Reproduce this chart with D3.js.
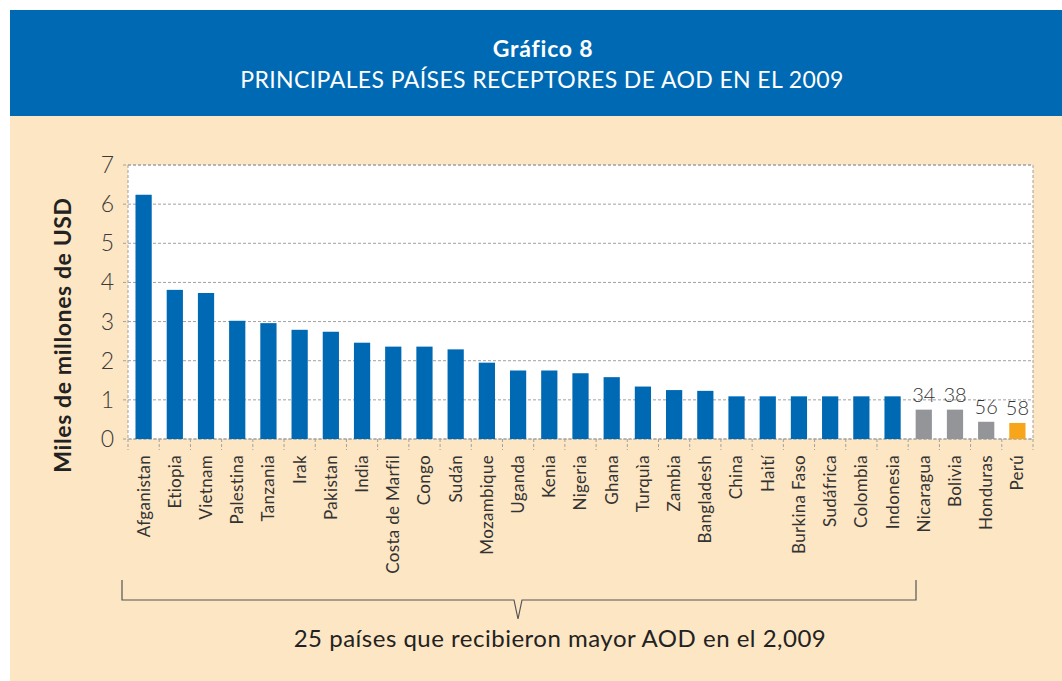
<!DOCTYPE html>
<html>
<head>
<meta charset="utf-8">
<script src="https://cdn.jsdelivr.net/npm/d3@7"></script>
<style>
  body { margin: 0; background: #fff; }
  svg text { font-family: "Lato", "Noto Sans", sans-serif; }
</style>
</head>
<body>
<div id="chart"></div>
<script>
// ---- données ----
const paises = ["Afganistan", "Etiopia", "Vietnam", "Palestina", "Tanzania", "Irak", "Pakistan", "India",
  "Costa de Marfil", "Congo", "Sudán", "Mozambique", "Uganda", "Kenia", "Nigeria", "Ghana", "Turquìa",
  "Zambia", "Bangladesh", "China", "Haití", "Burkina Faso", "Sudáfrica", "Colombia", "Indonesia",
  "Nicaragua", "Bolivia", "Honduras", "Perú"];
const valores = [6.24, 3.81, 3.73, 3.02, 2.96, 2.79, 2.74, 2.46,
  2.36, 2.36, 2.29, 1.95, 1.75, 1.75, 1.68, 1.58, 1.34,
  1.25, 1.23, 1.09, 1.09, 1.09, 1.09, 1.09, 1.09,
  0.75, 0.75, 0.44, 0.41];
// rang des pays d'Amérique latine (texte au-dessus des barres)
const rangos = {"Nicaragua": "34", "Bolivia": "38", "Honduras": "56", "Perú": "58"};
const yTicks = [0, 1, 2, 3, 4, 5, 6, 7];

// couleurs
const azul = "#0069b4", gris = "#939598", naranja = "#f7a51b", fondo = "#fde6c3";

const W = 1062, H = 681;
const svg = d3.select("#chart").append("svg").attr("width", W).attr("height", H);

// fond beige + bandeau bleu
svg.append("rect").attr("x", 10).attr("y", 10).attr("width", W - 10).attr("height", H - 10).attr("fill", fondo);
svg.append("rect").attr("x", 10).attr("y", 10).attr("width", W - 10).attr("height", 106).attr("fill", azul);

svg.append("text").attr("x", 543).attr("y", 57).attr("text-anchor", "middle")
  .attr("fill", "#fff").style("font-size", "23px").style("font-weight", "bold")
  .style("letter-spacing", "0.8px").text("Gráfico 8");
svg.append("text").attr("x", 542).attr("y", 88).attr("text-anchor", "middle")
  .attr("fill", "#fff").style("font-size", "23px").style("letter-spacing", "0.4px")
  .text("PRINCIPALES PAÍSES RECEPTORES DE AOD EN EL 2009");

// zone du graphique
const x0 = 128, x1 = 1033, yTop = 165, yBot = 439;

const x = d3.scaleBand().domain(paises).range([x0, x1]).paddingInner(0.48).paddingOuter(0.24);
const y = d3.scaleLinear().domain([0, 7]).range([yBot, yTop]);

svg.append("rect").attr("x", x0).attr("y", yTop).attr("width", x1 - x0).attr("height", yBot - yTop)
  .attr("fill", "#fff").attr("stroke", "#a0a0a0").attr("stroke-dasharray", "3,2");

// grille horizontale
svg.append("g").selectAll("line").data(yTicks).enter().append("line")
  .attr("x1", x0 - 5).attr("x2", x1).attr("y1", d => y(d)).attr("y2", d => y(d))
  .attr("stroke", "#a0a0a0").attr("stroke-dasharray", "3,2");

// graduations axe x (entre les bandes)
const bordes = paises.map(p => x(p) - x.step() * x.paddingInner() / 2).concat([x1]);
bordes[0] = x0;
svg.append("g").selectAll("line").data(bordes).enter().append("line")
  .attr("x1", d => d).attr("x2", d => d).attr("y1", yBot).attr("y2", yBot + 11)
  .attr("stroke", "#a0a0a0").attr("stroke-dasharray", "3,2");

// barres
svg.append("g").selectAll("rect").data(paises).enter().append("rect")
  .attr("x", d => x(d)).attr("width", x.bandwidth())
  .attr("y", (d, i) => y(valores[i])).attr("height", (d, i) => yBot - y(valores[i]))
  .attr("fill", d => d === "Perú" ? naranja : (rangos[d] ? gris : azul));

// rangs
svg.append("g").selectAll("text").data(paises.filter(p => rangos[p])).enter().append("text")
  .attr("x", d => x(d) + x.bandwidth() / 2)
  .attr("y", d => y(valores[paises.indexOf(d)]) - 8)
  .attr("text-anchor", "middle").attr("fill", "#333").style("font-size", "20px").style("font-weight", 300)
  .text(d => rangos[d]);

// axe y
svg.append("g").selectAll("text").data(yTicks).enter().append("text")
  .attr("x", 114).attr("y", d => y(d)).attr("dy", "0.35em").attr("text-anchor", "end")
  .attr("fill", "#3a3a3a").style("font-size", "23px").style("font-weight", 300).text(d => d);

svg.append("text").attr("transform", "translate(71,335) rotate(-90)").attr("text-anchor", "middle")
  .attr("fill", "#222").style("font-size", "23px").style("font-weight", "bold")
  .style("letter-spacing", "0.6px").text("Miles de millones de USD");

// étiquettes pays
svg.append("g").selectAll("text").data(paises).enter().append("text")
  .attr("transform", d => `translate(${x(d) + x.bandwidth() / 2},455) rotate(-90)`)
  .attr("dy", "0.35em").attr("text-anchor", "end").attr("fill", "#333")
  .style("font-size", "17px").style("letter-spacing", "0.3px").text(d => d);

// accolade
const bx0 = 122, bx1 = 916, bm = 518, by = 600;
svg.append("path")
  .attr("d", `M${bx0},580 L${bx0},${by} L${bm - 4},${by} L${bm},619 L${bm + 4},${by} L${bx1},${by} L${bx1},580`)
  .attr("fill", "none").attr("stroke", "#555").attr("stroke-width", 1.2);

svg.append("text").attr("x", 560).attr("y", 647).attr("text-anchor", "middle")
  .attr("fill", "#222").style("font-size", "24px").style("letter-spacing", "0.5px")
  .text("25 países que recibieron mayor AOD en el 2,009");
</script>
</body>
</html>
